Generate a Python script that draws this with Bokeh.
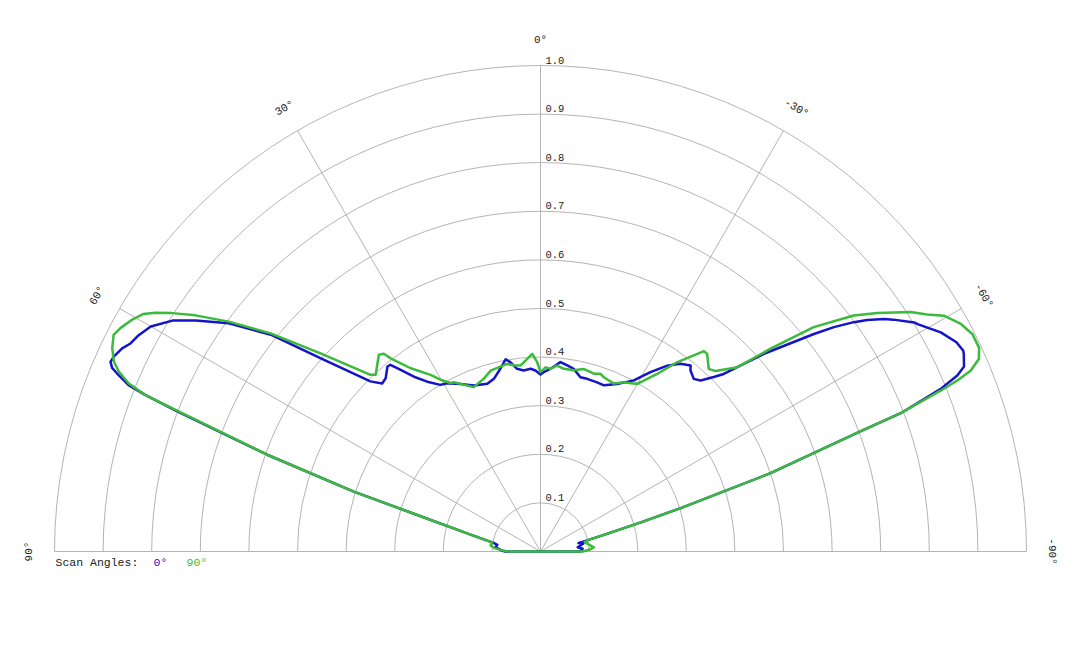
import numpy as np
from bokeh.plotting import figure
from bokeh.models import Range1d
from bokeh.core.properties import value
from bokeh.embed import file_html
from bokeh.resources import INLINE

# ---------------- data (angle in degrees, positive = left of 0°) ----------------
scan_0_theta = [90, 87.6, 84.5, 81.2, 79.5, 76.4, 73.6, 72.2, 70.5, 68.9, 68.4, 68.0, 67.2, 66.8,
                66.2, 65.4, 64.1, 63.1, 61.7, 60.0, 57.9, 56.2, 53.8, 51.2, 48.7, 45.0, 43.3,
                41.8, 39.6, 38.8, 38.0, 35.9, 33.7, 31.0, 29.0, 25.5, 21.9, 17.6, 15.1, 12.4,
                10.3, 9.0, 7.3, 5.3, 3.1, 1.6, 0.0, -1.0, -3.1, -4.6, -6.0, -8.2, -10.3, -12.9,
                -15.1, -18.5, -20.9, -24.6, -28.6, -31.5, -34.3, -36.7, -38.9, -39.6, -41.6,
                -43.1, -44.8, -45.9, -48.5, -51.5, -52.6, -53.8, -54.7, -55.9, -56.7, -58.5,
                -58.9, -61.3, -63.3, -64.6, -65.0, -66.4, -67.1, -67.9, -69.0, -69.4, -71.2,
                -72.8, -73.8, -75.5, -76.5, -77.5, -79.3, -81.5, -83.6, -86.3, -90]
scan_0_r = [0.0755, 0.0824, 0.093, 0.090, 0.098, 0.148, 0.257, 0.4035, 0.5965, 0.801, 0.874,
            0.914, 0.945, 0.959, 0.967, 0.965, 0.957, 0.946, 0.939, 0.926, 0.894, 0.854, 0.795,
            0.712, 0.603, 0.495, 0.475, 0.478, 0.494, 0.493, 0.479, 0.444, 0.420, 0.400, 0.396,
            0.382, 0.368, 0.362, 0.368, 0.385, 0.402, 0.394, 0.379, 0.374, 0.3765, 0.3725,
            0.364, 0.369, 0.3765, 0.384, 0.392, 0.387, 0.382, 0.368, 0.368, 0.367, 0.366,
            0.379, 0.401, 0.433, 0.463, 0.482, 0.492, 0.484, 0.475, 0.482, 0.506, 0.525,
            0.614, 0.719, 0.760, 0.799, 0.824, 0.853, 0.869, 0.902, 0.906, 0.939, 0.958,
            0.963, 0.961, 0.951, 0.931, 0.888, 0.794, 0.703, 0.500, 0.302, 0.215, 0.130,
            0.100, 0.080, 0.090, 0.083, 0.077, 0.087, 0.082]

scan_90_theta = [90, 87.6, 85.5, 83.2, 79.5, 76.4, 73.6, 72.2, 70.5, 68.8, 68.4, 67.8, 66.9,
                 66.0, 64.6, 63.1, 62.0, 60.4, 59.1, 58.2, 57.1, 55.6, 53.6, 51.05, 48.0, 43.9,
                 43.0, 41.2, 39.4, 38.4, 37.8, 35.3, 31.9, 30.2, 28.1, 27.1, 22.1, 18.2, 15.4,
                 10.1, 8.2, 6.1, 4.5, 2.4, 1.0, 0.0, -1.55, -3.1, -5.1, -7.3, -10.4, -13.3,
                 -16.7, -18.65, -20.0, -23.6, -26.2, -30.0, -33.3, -35.8, -39.2, -40.1, -42.65,
                 -44.1, -46.9, -48.6, -50.6, -53.0, -54.7, -57.1, -58.5, -59.7, -61.5, -63.3,
                 -65.1, -66.3, -67.2, -67.7, -68.1, -69.0, -69.4, -71.2, -72.8, -73.8, -75.5,
                 -76.5, -78.0, -81.5, -85.5, -88.0, -90]
scan_90_r = [0.0685, 0.0824, 0.0964, 0.1036, 0.101, 0.148, 0.257, 0.4035, 0.5965, 0.802, 0.874,
             0.915, 0.943, 0.961, 0.9755, 0.985, 0.979, 0.966, 0.952, 0.9325, 0.903, 0.860,
             0.797, 0.714, 0.609, 0.5045, 0.4975, 0.510, 0.524, 0.519, 0.503, 0.462, 0.428,
             0.409, 0.393, 0.391, 0.365, 0.374, 0.386, 0.392, 0.387, 0.385, 0.394, 0.407,
             0.3895, 0.369, 0.379, 0.3765, 0.384, 0.379, 0.379, 0.386, 0.382, 0.386, 0.3815,
             0.377, 0.388, 0.398, 0.437, 0.480, 0.532, 0.532, 0.511, 0.517, 0.555, 0.631,
             0.7275, 0.807, 0.849, 0.907, 0.933, 0.9615, 0.983, 0.995, 0.995, 0.985, 0.960,
             0.927, 0.887, 0.794, 0.703, 0.500, 0.302, 0.215, 0.130, 0.100, 0.093, 0.100,
             0.110, 0.100, 0.087]

ring_values = [0.1, 0.2, 0.3, 0.4, 0.5, 0.6, 0.7, 0.8, 0.9, 1.0]
ring_labels = ["0.1", "0.2", "0.3", "0.4", "0.5", "0.6", "0.7", "0.8", "0.9", "1.0"]
spoke_angles = [60, 30, 0, -30, -60]
angle_label_values = [90, 60, 30, 0, -30, -60, -90]
angle_labels = ["90°", "60°", "30°", "0°", "-30°", "-60°", "-90°"]
legend_title = "Scan Angles:"
series_names = ["0°", "90°"]
series_colors = ["#1414c8", "#3cba3c"]

# ---------------- layout ----------------
PX = 486.0          # pixels per unit radius
W, H = 1080, 648
CX, CY = 540.0, 551.0
FONT = value("Liberation Mono")
GRID = "#b4b4b4"

p = figure(width=W, height=H,
           x_range=Range1d(-CX / PX, (W - CX) / PX),
           y_range=Range1d(-(H - CY) / PX, CY / PX),
           x_axis_type=None, y_axis_type=None,
           toolbar_location=None, output_backend="svg", min_border=0)
p.outline_line_color = None
p.background_fill_color = "white"
p.border_fill_color = "white"


def to_xy(theta_deg, r):
    t = np.radians(np.asarray(theta_deg, dtype=float))
    r = np.asarray(r, dtype=float)
    return -r * np.sin(t), r * np.cos(t)


# rings
p.arc(x=0, y=0, radius=ring_values, start_angle=0, end_angle=np.pi,
      line_color=GRID, line_width=1)
# spokes
sx, sy = to_xy(spoke_angles, [1.0] * len(spoke_angles))
p.segment(x0=[0] * len(spoke_angles), y0=[0] * len(spoke_angles), x1=sx, y1=sy,
          line_color=GRID, line_width=1)
p.segment(x0=[-1.0], y0=[0], x1=[1.0], y1=[0], line_color=GRID, line_width=1)

# ring labels
p.text(x=[5 / PX] * len(ring_values), y=[v + 2 / PX for v in ring_values], text=ring_labels,
       text_font=FONT, text_font_size="10.5px", text_color="#222222",
       text_align="left", text_baseline="bottom")

# angle labels
lx, ly = to_xy(angle_label_values, [1.053] * len(angle_label_values))
p.text(x=lx, y=ly, text=angle_labels, angle=np.radians(angle_label_values),
       text_font=FONT, text_font_size="11px", text_color="#222222",
       text_align="center", text_baseline="middle")

# series (closed curves)
for th, rr, col in [(scan_0_theta, scan_0_r, series_colors[0]),
                    (scan_90_theta, scan_90_r, series_colors[1])]:
    x, y = to_xy(th, rr)
    x = np.append(x, x[0])
    y = np.append(y, y[0])
    p.line(x, y, line_color=col, line_width=2.5, line_join="round")

# legend
ly0 = (CY - 562) / PX
p.text(x=[(55 - CX) / PX], y=[ly0], text=[legend_title], text_font=FONT,
       text_font_size="11.5px", text_color="#222222", text_baseline="middle", text_align="left")
p.text(x=[(153 - CX) / PX], y=[ly0], text=[series_names[0]], text_font=FONT,
       text_font_size="11.5px", text_color=series_colors[0], text_baseline="middle", text_align="left")
p.text(x=[(186 - CX) / PX], y=[ly0], text=[series_names[1]], text_font=FONT,
       text_font_size="11.5px", text_color=series_colors[1], text_baseline="middle", text_align="left")

open("out.html", "w").write(file_html(p, INLINE))
